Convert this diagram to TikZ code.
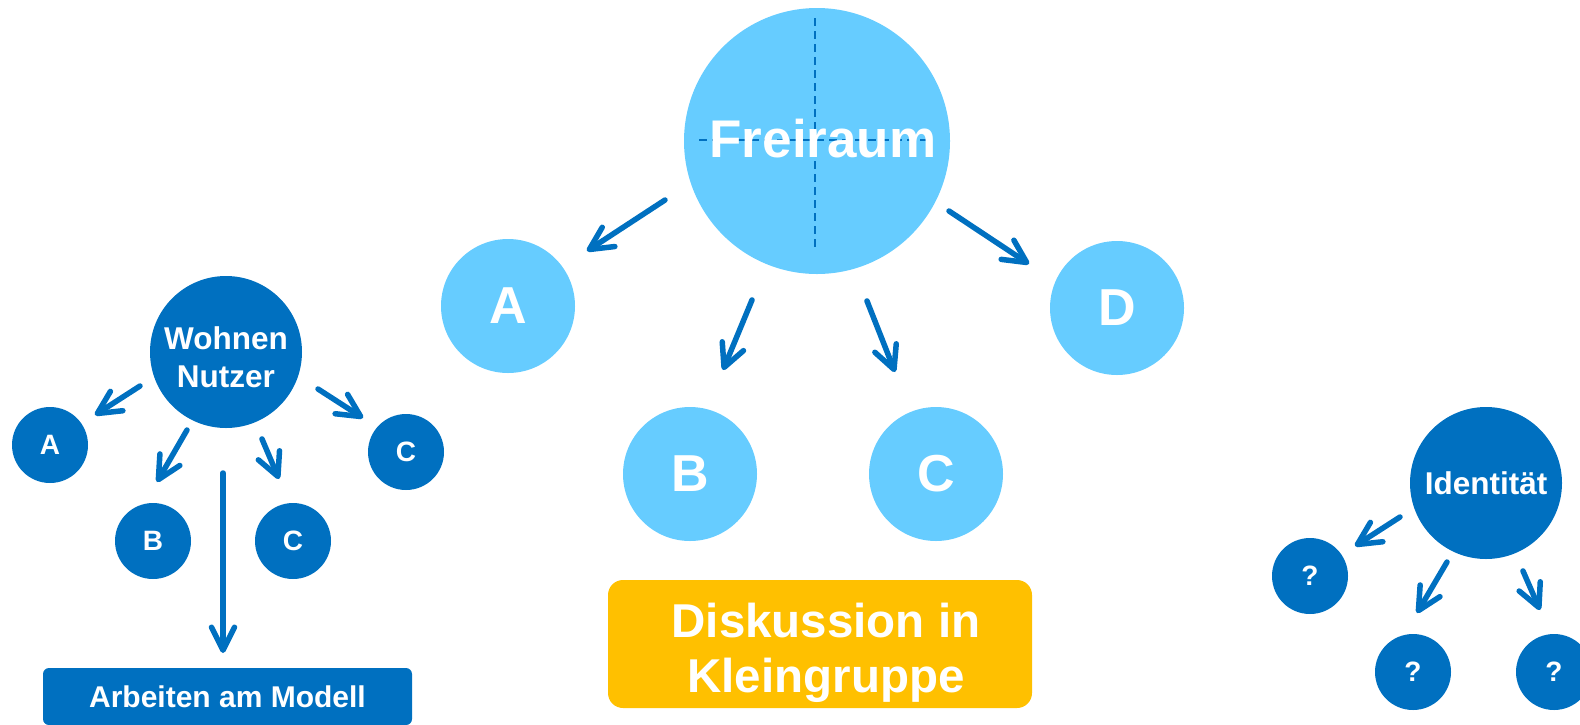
\documentclass[tikz,border=0pt]{standalone}
\usepackage{fontspec}
\setmainfont{Liberation Sans}
\usetikzlibrary{arrows.meta}
\definecolor{dblue}{HTML}{0070C0}
\definecolor{lblue}{HTML}{66CCFF}
\definecolor{gold}{HTML}{FFC000}
\begin{document}
\begin{tikzpicture}[x=1pt,y=-1pt,
  bigc/.style={circle,fill=lblue,minimum size=134pt,inner sep=0pt,text=white,font=\bfseries\fontsize{52}{58}\selectfont},
  hubc/.style={circle,fill=dblue,minimum size=152pt,inner sep=0pt,text=white,align=center,text depth=0pt,font=\bfseries\fontsize{31.5}{38}\selectfont},
  smallc/.style={circle,fill=dblue,minimum size=76pt,inner sep=0pt,text=white,font=\bfseries\fontsize{28}{32}\selectfont},
  arr/.style={draw=dblue,line width=5.5pt,line cap=round,-{Straight Barb[length=23pt,width=23pt,line cap=round,line join=round]}},
  dashes/.style={draw=dblue,line width=1.5pt,dash pattern=on 8pt off 5pt}
]
\useasboundingbox (0,0) rectangle (1580,724);

% ---------- central group ----------
\node[circle,fill=lblue,minimum size=266pt,inner sep=0pt] (F) at (817,141) {};
\coordinate (dv1) at (815,18);  \coordinate (dv2) at (815,250);
\coordinate (dh1) at (699,140); \coordinate (dh2) at (927,140);
\draw[dashes] (dv1) -- (dv2);
\draw[dashes] (dh1) -- (dh2);
\node[text=white,inner sep=0pt,font=\bfseries\fontsize{53}{60}\selectfont] (Ft) at (823,139) {Freiraum};

\node[bigc] (A) at (508,306) {A};
\node[bigc] (D) at (1117,308) {D};
\node[bigc] (B) at (690,474) {B};
\node[bigc] (C) at (936,474) {C};

\coordinate (fa1) at (665,200); \coordinate (fa2) at (587,251);
\coordinate (fd1) at (949,211); \coordinate (fd2) at (1029,264);
\coordinate (fb1) at (752,300); \coordinate (fb2) at (723,370);
\coordinate (fc1) at (867,301); \coordinate (fc2) at (895,372);
\draw[arr] (fa1) -- (fa2);
\draw[arr] (fd1) -- (fd2);
\draw[arr] (fb1) -- (fb2);
\draw[arr] (fc1) -- (fc2);

\node[fill=gold,rounded corners=15pt,minimum width=424pt,minimum height=128pt,inner sep=0pt,
      text=white,align=center,text depth=0pt,font=\bfseries\fontsize{47.5}{55}\selectfont]
      (K) at (820,644) {\hspace*{12pt}\rule{0pt}{41pt}Diskussion in\\\hspace*{12pt}Kleingruppe};

% ---------- left group ----------
\node[hubc] (W) at (226,352) {\rule{0pt}{33pt}Wohnen\\Nutzer};
\node[smallc] (la) at (50,445) {A};
\node[smallc] (lb) at (153,541) {B};
\node[smallc] (lc) at (293,541) {C};
\node[smallc] (lc2) at (406,452) {C};
\node[fill=dblue,rounded corners=6pt,minimum width=369pt,minimum height=57pt,inner sep=0pt,
      text=white,text depth=0pt,font=\bfseries\fontsize{30}{36}\selectfont]
      (M) at (227.5,696.5) {Arbeiten am Modell};

\coordinate (wa1) at (140,386); \coordinate (wa2) at (95,415);
\coordinate (wb1) at (187,430); \coordinate (wb2) at (157,482);
\coordinate (wc1) at (262,439); \coordinate (wc2) at (279,479);
\coordinate (wd1) at (318,389); \coordinate (wd2) at (363,418);
\coordinate (wm1) at (223,473); \coordinate (wm2) at (223,653);
\draw[arr] (wa1) -- (wa2);
\draw[arr] (wb1) -- (wb2);
\draw[arr] (wc1) -- (wc2);
\draw[arr] (wd1) -- (wd2);
\draw[arr] (wm1) -- (wm2);

% ---------- right group ----------
\node[hubc] (I) at (1486,483) {Identität};
\node[smallc] (q1) at (1310,576) {?};
\node[smallc] (q2) at (1413,672) {?};
\node[smallc] (q3) at (1554,672) {?};
\coordinate (ia1) at (1400,517); \coordinate (ia2) at (1355,546);
\coordinate (ib1) at (1447,562); \coordinate (ib2) at (1417,613);
\coordinate (ic1) at (1523,571); \coordinate (ic2) at (1540,610);
\draw[arr] (ia1) -- (ia2);
\draw[arr] (ib1) -- (ib2);
\draw[arr] (ic1) -- (ic2);
\end{tikzpicture}
\end{document}
